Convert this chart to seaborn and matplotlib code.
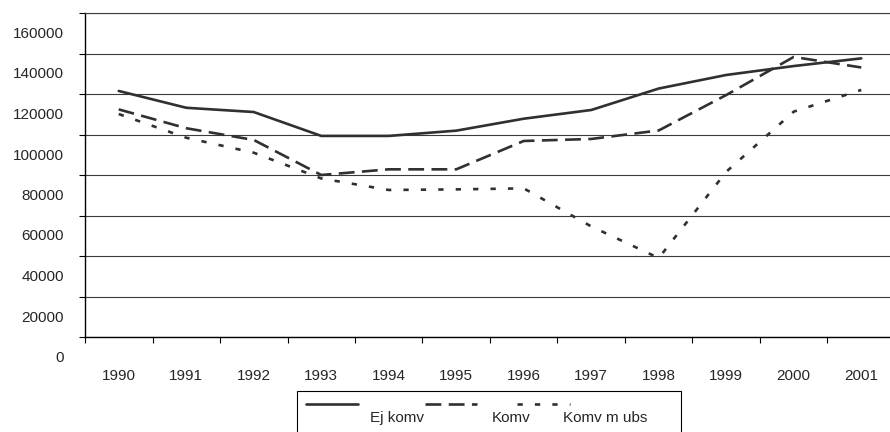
#!/usr/bin/env python3

# Line chart, three series per year, Excel-style layout.

import matplotlib
matplotlib.use("Agg")
import matplotlib.pyplot as plt
import matplotlib.transforms as mtransforms
from matplotlib.lines import Line2D
from matplotlib.patches import Rectangle
import numpy as np
import pandas as pd
import seaborn as sns

years = [1990, 1991, 1992, 1993, 1994, 1995, 1996, 1997, 1998, 1999, 2000, 2001]
ej_komv = [121500, 113200, 111100, 99300, 99300, 101900, 107800, 112100, 122700, 129400, 133800, 137600]
komv = [112400, 103100, 97300, 80000, 82800, 82800, 96800, 97800, 102000, 119500, 138300, 133100]
komv_m_ubs = [110100, 98400, 91000, 78300, 72600, 72900, 73400, 54600, 39000, 81600, 111300, 122000]
series_names = ["Ej komv", "Komv", "Komv m ubs"]
yticks = [0, 20000, 40000, 60000, 80000, 100000, 120000, 140000, 160000]

sns.set_theme(style="white")
plt.rcParams["font.family"] = ["Liberation Sans", "DejaVu Sans"]

W, H = 890, 432
fig = plt.figure(figsize=(W / 100, H / 100), dpi=100)
ax = fig.add_axes([85 / W, (H - 337) / H, 810 / W, 324 / H])

line_color = "#303030"
dash_map = {"Ej komv": "", "Komv": (6, 2.8), "Komv m ubs": (2, 4.6)}

df = pd.DataFrame({
    "pos": list(range(len(years))) * 3,
    "value": ej_komv + komv + komv_m_ubs,
    "series": [n for n in series_names for _ in years],
})

sns.lineplot(data=df, x="pos", y="value", hue="series", style="series",
             palette={n: line_color for n in series_names}, dashes=dash_map,
             linewidth=1.9, legend=False, ax=ax)

ax.set_xlim(-0.5, len(years) - 0.5)
ax.set_ylim(0, 160000)
ax.set_xlabel("")
ax.set_ylabel("")

# gridlines
ax.set_yticks(yticks)
ax.yaxis.grid(True, color="#3a3a3a", linewidth=0.8)
ax.xaxis.grid(False)
ax.set_axisbelow(True)

ax.set_yticklabels([str(v) for v in yticks], fontsize=11)
ax.tick_params(axis="y", which="major", direction="out", length=4.3, width=0.8,
               color="black", pad=10.8, left=True)
# labels sit half a step below their gridline, as in the original
shift = mtransforms.ScaledTranslation(0, -19.5 / 100, fig.dpi_scale_trans)
for lab in ax.get_yticklabels():
    lab.set_transform(lab.get_transform() + shift)

ax.set_xticks(range(len(years)))
ax.set_xticklabels([str(y) for y in years], fontsize=11)
ax.set_xticks(np.arange(-0.5, len(years), 1), minor=True)
ax.tick_params(axis="x", which="major", length=0, pad=23)
ax.tick_params(axis="x", which="minor", direction="out", length=4.3, width=0.8,
               color="black", bottom=True)

for side in ["left", "bottom"]:
    ax.spines[side].set_color("black")
    ax.spines[side].set_linewidth(1.0)
ax.spines["right"].set_visible(False)
ax.spines["top"].set_color("#3a3a3a")
ax.spines["top"].set_linewidth(0.8)

# legend box, drawn the way the original lays it out
fig.add_artist(Rectangle((297 / W, -0.05), (681 - 297) / W, 0.05 + (H - 391) / H,
                         transform=fig.transFigure, fill=False,
                         edgecolor="black", linewidth=0.8))
handle_x = [(306, 358), (425, 477), (517, 570)]
text_x = [370, 492, 563]
for name, (x0, x1), tx in zip(series_names, handle_x, text_x):
    d = dash_map[name]
    ln = Line2D([x0 / W, x1 / W], [(H - 404) / H] * 2, transform=fig.transFigure,
                color=line_color, linewidth=1.9)
    if d:
        ln.set_dashes(d)
    fig.add_artist(ln)
    fig.text(tx / W, (H - 418) / H, name, fontsize=11, ha="left", va="center")

fig.savefig("out.png", dpi=100)
plt.close(fig)
